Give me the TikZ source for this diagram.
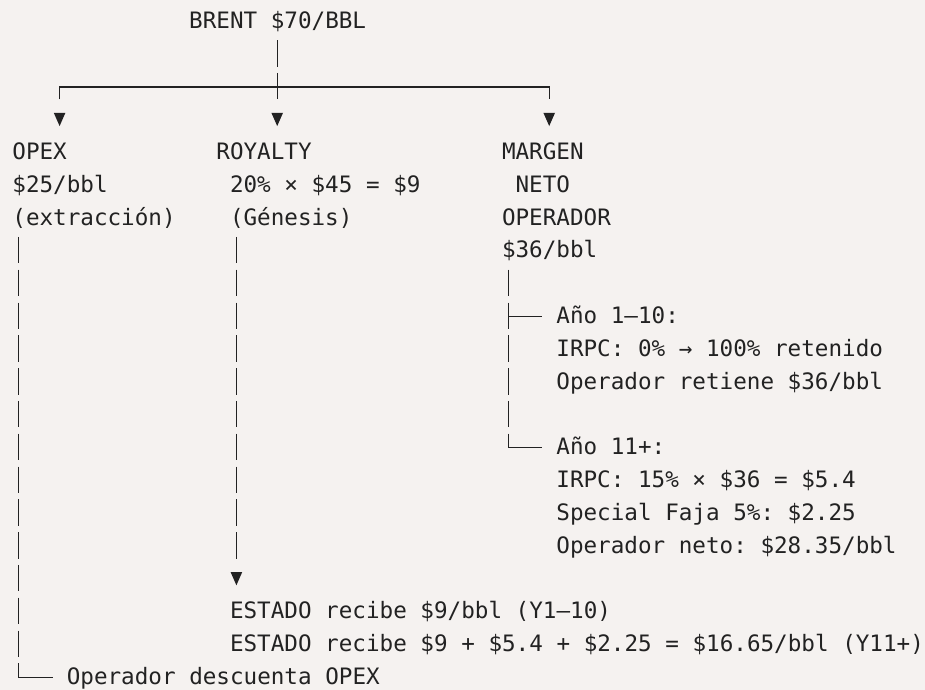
\documentclass[tikz,border=0pt]{standalone}
\usepackage{fontspec}
\usepackage{xcolor}
\newfontfamily\codefont{DejaVu Sans Mono}
\definecolor{paper}{RGB}{245,242,240}
\definecolor{ink}{RGB}{34,34,34}
\frenchspacing

\begin{document}
\begin{tikzpicture}[x=6.8pt,y=-16.4pt,
    txt/.style={anchor=base west,inner sep=0pt,text=ink,
      font=\codefont\fontsize{11.3}{13.6}\selectfont},
    wire/.style={draw=ink,line width=0.65pt},
    cellrun/.style={wire,dash pattern=on 13.2pt off 3.2pt},
    downtip/.pic={\fill[ink] (0,0) -- (-2.9pt,6.6pt) -- (2.9pt,6.6pt) -- cycle;}]
    \fill[paper] (-0.882,0.137) rectangle (67.13,21.17);
    \useasboundingbox (-0.882,0.137) rectangle (67.13,21.17);

    \node[txt] (brent) at (13,1) {BRENT \$70/BBL};
    \node[txt] (opex) at (0,5) {OPEX};
    \node[txt] (opexA) at (0,6) {\$25/bbl};
    \node[txt] (opexB) at (0,7) {(extracción)};
    \node[txt] (roy) at (15,5) {ROYALTY};
    \node[txt] (royA) at (16,6) {20\% × \$45 = \$9};
    \node[txt] (royB) at (16,7) {(Génesis)};
    \node[txt] (margen) at (36,5) {MARGEN};
    \node[txt] (margenA) at (37,6) {NETO};
    \node[txt] (margenB) at (36,7) {OPERADOR};
    \node[txt] (margenC) at (36,8) {\$36/bbl};
    \node[txt] (early) at (40,10) {Año 1–10:};
    \node[txt] (earlyA) at (40,11) {IRPC: 0\% → 100\% retenido};
    \node[txt] (earlyB) at (40,12) {Operador retiene \$36/bbl};
    \node[txt] (late) at (40,14) {Año 11+:};
    \node[txt] (lateA) at (40,15) {IRPC: 15\% × \$36 = \$5.4};
    \node[txt] (lateB) at (40,16) {Special Faja 5\%: \$2.25};
    \node[txt] (lateC) at (40,17) {Operador neto: \$28.35/bbl};
    \node[txt] (estado) at (16,19) {ESTADO recibe \$9/bbl (Y1–10)};
    \node[txt] (estadoB) at (16,20) {ESTADO recibe \$9 + \$5.4 + \$2.25 = \$16.65/bbl (Y11+)};
    \node[txt] (neto) at (4,21) {Operador descuenta OPEX};

    \coordinate (stemTop) at (19.5,1.36);
    \coordinate (stemEnd) at (19.5,3.165);
    \coordinate (barL) at (3.5,2.787);
    \coordinate (barR) at (39.5,2.787);
    \coordinate (dropOpex) at (3.5,3.165);
    \coordinate (dropMargen) at (39.5,3.165);
    \coordinate (opexTop) at (0.5,7.36);
    \coordinate (opexEnd) at (0.5,20.165);
    \coordinate (opexLast) at (0.5,20.36);
    \coordinate (opexBend) at (0.5,20.787);
    \coordinate (royTop) at (16.5,7.36);
    \coordinate (royEnd) at (16.5,17.165);
    \coordinate (margenTop) at (36.5,8.36);
    \coordinate (margenEnd) at (36.5,13.165);
    \coordinate (earlyFork) at (36.5,9.787);
    \coordinate (lateLast) at (36.5,13.36);
    \coordinate (lateBend) at (36.5,13.787);

    \pic (tipOpex) at (3.5,3.98) {downtip};
    \pic (tipRoy) at (19.5,3.98) {downtip};
    \pic (tipMargen) at (39.5,3.98) {downtip};
    \pic (tipEstado) at (16.5,17.98) {downtip};

    \path[cellrun] (stemTop) edge (stemEnd)
      (opexTop) edge (opexEnd)
      (royTop) edge (royEnd)
      (margenTop) edge (margenEnd);
    \draw[wire] (dropOpex) -- (barL) -- (barR) -- (dropMargen);
    \draw[wire] (opexLast) -- (opexBend) -- ([xshift=-6.8pt]opexBend -| neto.west);
    \draw[wire] (earlyFork) -- ([xshift=-6.8pt]earlyFork -| early.west);
    \draw[wire] (lateLast) -- (lateBend) -- ([xshift=-6.8pt]lateBend -| late.west);
  \end{tikzpicture}
\end{document}
